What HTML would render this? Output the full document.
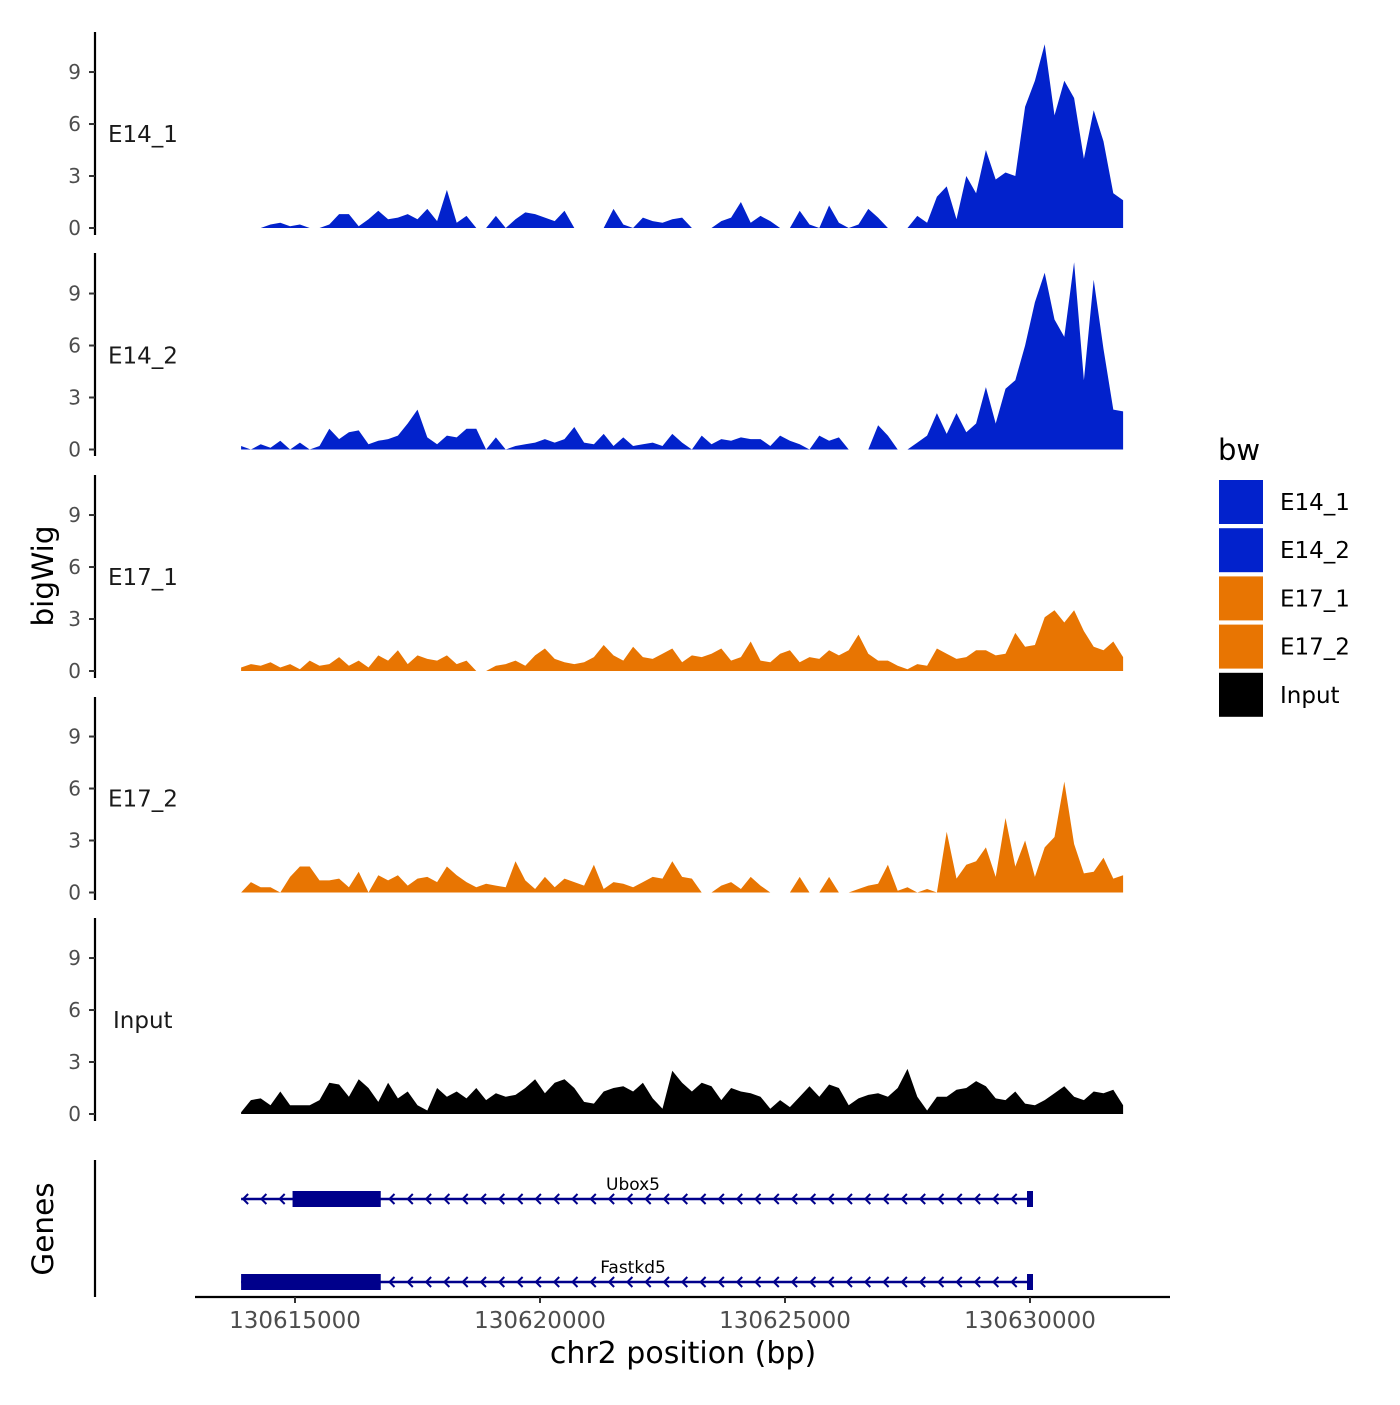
<!DOCTYPE html>
<html><head><meta charset="utf-8"><style>
body{margin:0;background:#fff;}
svg text{font-family:"DejaVu Sans","Liberation Sans",sans-serif;}
</style></head><body>
<svg id="c" width="1400" height="1400" viewBox="0 0 1400 1400">
<rect width="1400" height="1400" fill="#fff"/>
</svg>
<script>
const trackNames = ["E14_1","E14_2","E17_1","E17_2","Input"];
const trackColors = ["#0222cc","#0222cc","#e87502","#e87502","#000000"];
const yTicks = [0,3,6,9];
const xTicks = [130615000,130620000,130625000,130630000];
const startBp = 130613900;
const stepBp = 200;
const e14_1 = [0,0,0,0.2,0.3,0.1,0.2,0,0,0.2,0.8,0.8,0.1,0.5,1.0,0.5,0.6,0.8,0.5,1.1,0.4,2.2,0.3,0.7,0,0,0.7,0,0.5,0.9,0.8,0.6,0.4,1.0,0,0,0,0,1.1,0.2,0,0.6,0.4,0.3,0.5,0.6,0,0,0,0.4,0.6,1.5,0.3,0.7,0.4,0,0,1.0,0.2,0,1.3,0.3,0,0.2,1.1,0.6,0,0,0,0.7,0.3,1.8,2.4,0.5,3.0,2.0,4.5,2.8,3.2,3.0,7.0,8.5,10.6,6.5,8.5,7.5,4.0,6.8,5.0,2.0,1.6];
const e14_2 = [0.2,0,0.3,0.1,0.5,0,0.4,0,0.2,1.2,0.6,1.0,1.1,0.3,0.5,0.6,0.8,1.5,2.3,0.7,0.3,0.8,0.7,1.2,1.2,0,0.7,0,0.2,0.3,0.4,0.6,0.4,0.6,1.3,0.4,0.3,0.9,0.2,0.7,0.2,0.3,0.4,0.2,0.9,0.4,0,0.8,0.3,0.6,0.5,0.7,0.6,0.6,0.2,0.8,0.5,0.3,0,0.8,0.5,0.7,0,0,0,1.4,0.8,0,0,0.4,0.8,2.1,0.9,2.1,1.0,1.5,3.6,1.5,3.5,4.0,6.0,8.5,10.2,7.5,6.5,10.8,4.0,9.8,5.8,2.3,2.2];
const e17_1 = [0.2,0.4,0.3,0.5,0.2,0.4,0.1,0.6,0.3,0.4,0.8,0.3,0.6,0.2,0.9,0.6,1.2,0.4,0.9,0.7,0.6,0.9,0.4,0.6,0,0,0.3,0.4,0.6,0.3,0.9,1.3,0.7,0.5,0.4,0.5,0.8,1.5,0.9,0.6,1.4,0.8,0.7,1.0,1.3,0.5,0.9,0.8,1.0,1.3,0.6,0.8,1.7,0.6,0.5,1.0,1.2,0.5,0.8,0.7,1.2,0.9,1.2,2.1,1.0,0.6,0.6,0.3,0.1,0.4,0.3,1.3,1.0,0.7,0.8,1.2,1.2,0.9,1.0,2.2,1.4,1.5,3.1,3.5,2.8,3.5,2.3,1.4,1.2,1.7,0.8];
const e17_2 = [0,0.6,0.3,0.3,0,0.9,1.5,1.5,0.7,0.7,0.8,0.3,1.2,0,1.0,0.7,1.0,0.4,0.8,0.9,0.6,1.5,1.0,0.6,0.3,0.5,0.4,0.3,1.8,0.7,0.2,0.9,0.3,0.8,0.6,0.4,1.6,0.2,0.6,0.5,0.3,0.6,0.9,0.8,1.8,0.9,0.8,0,0,0.4,0.6,0.2,0.9,0.4,0,0,0,0.9,0,0,0.9,0,0,0.2,0.4,0.5,1.6,0.1,0.3,0,0.2,0,3.5,0.8,1.6,1.8,2.6,0.9,4.3,1.5,3.0,0.9,2.6,3.2,6.4,2.8,1.1,1.2,2.0,0.8,1.0];
const inputVals = [0.1,0.8,0.9,0.5,1.3,0.5,0.5,0.5,0.8,1.8,1.7,1.0,2.0,1.5,0.7,1.8,0.9,1.3,0.5,0.2,1.5,1.0,1.3,0.9,1.5,0.8,1.2,1.0,1.1,1.5,2.0,1.2,1.8,2.0,1.5,0.7,0.6,1.3,1.5,1.6,1.3,1.8,0.9,0.3,2.5,1.8,1.3,1.8,1.6,0.8,1.5,1.3,1.2,1.0,0.3,0.8,0.4,1.0,1.6,1.0,1.7,1.5,0.5,0.9,1.1,1.2,1.0,1.5,2.6,1.0,0.2,1.0,1.0,1.4,1.5,1.9,1.6,0.9,0.8,1.3,0.6,0.5,0.8,1.2,1.6,1.0,0.8,1.3,1.2,1.4,0.5];
const geneNames = ["Ubox5","Fastkd5"];
const geneStart = [130613900,130613900];
const geneEnd = [130630000,130630000];
const cdsStart = [130614950,130613900];
const cdsEnd = [130616750,130616750];

const series=[e14_1,e14_2,e17_1,e17_2,inputVals];
const NS="http://www.w3.org/2000/svg";
const svg=document.getElementById('c');
function mk(t,a,txt){const e=document.createElementNS(NS,t);for(const k in a)e.setAttribute(k,a[k]);if(txt!==undefined)e.textContent=txt;svg.appendChild(e);return e;}
const xS=bp=>295+(bp-130615000)*0.049;
const zeros=[228,449.5,671,892.5,1114];
const ppu=17.33;
const axTop=[32,253,475,697,918];

series.forEach((vals,t)=>{
  const z=zeros[t];const yS=v=>z-v*ppu;
  const ax=mk('line',{x1:95,x2:95,y1:axTop[t],y2:axTop[t]+203,stroke:'#000','stroke-width':2.2});
  
  
  yTicks.forEach(v=>{
    const tk=mk('line',{x1:89,x2:95,y1:yS(v),y2:yS(v),stroke:'#333','stroke-width':2});
    
    
    const tl=mk('text',{x:81,y:yS(v)+7,'text-anchor':'end','font-size':20,fill:'#4d4d4d'},v);
    
    
  });
  let d='M'+xS(startBp)+','+z;
  vals.forEach((v,i)=>{d+=' L'+xS(startBp+i*stepBp).toFixed(1)+','+yS(v).toFixed(1);});
  d+=' L'+xS(startBp+(vals.length-1)*stepBp).toFixed(1)+','+z+' Z';
  const p=mk('path',{d:d,fill:trackColors[t]});
  
  
  const lb=mk('text',{x:t==4?113:108,y:z-86,'font-size':23,fill:'#1a1a1a'},trackNames[t]);
  
  
});

const gax=mk('line',{x1:95,x2:95,y1:1160,y2:1297,stroke:'#000','stroke-width':2.2});


const gy=[1199,1282];
geneNames.forEach((g,i)=>{
  const y=gy[i];
  const x1=xS(geneStart[i]),x2=xS(geneEnd[i]);
  const ln=mk('line',{x1:x1,x2:x2,y1:y,y2:y,stroke:'#00008b','stroke-width':2.5});
  
  
  for(let x=x1+2;x<x2-6;x+=18.3){
    const a=mk('path',{d:`M${x+5},${y-5} L${x},${y} L${x+5},${y+5}`,stroke:'#00008b','stroke-width':2,fill:'none'});
    
    
  }
  const r=mk('rect',{x:xS(cdsStart[i]),y:y-8,width:xS(cdsEnd[i])-xS(cdsStart[i]),height:16,fill:'#00008b'});
  
  
  const e=mk('rect',{x:x2-3,y:y-8,width:6,height:16,fill:'#00008b'});
  
  
  const tl=mk('text',{x:633,y:y-9,'text-anchor':'middle','font-size':17,fill:'#000'},g);
  
  
});

const xa=mk('line',{x1:195,x2:1170,y1:1297,y2:1297,stroke:'#000','stroke-width':2.2});


xTicks.forEach(v=>{
  const tk=mk('line',{x1:xS(v),x2:xS(v),y1:1297,y2:1303,stroke:'#333','stroke-width':2});
  
  
  const tl=mk('text',{x:xS(v),y:1328,'text-anchor':'middle','font-size':23,fill:'#4d4d4d'},v);
  
  
});
const xt=mk('text',{x:683,y:1363,'text-anchor':'middle','font-size':30,fill:'#000'},'chr2 position (bp)');


const yt=mk('text',{x:0,y:0,'text-anchor':'middle','font-size':29.5,fill:'#000',transform:'translate(53,576) rotate(-90)'},'bigWig');


const gt=mk('text',{x:0,y:0,'text-anchor':'middle','font-size':29.5,fill:'#000',transform:'translate(53,1229) rotate(-90)'},'Genes');



const lt=mk('text',{x:1218,y:460,'font-size':29,fill:'#000'},'bw');


trackNames.forEach((n,i)=>{
  const y=480+i*48.2;
  const r=mk('rect',{x:1219,y:y,width:44,height:44,fill:trackColors[i]});
  
  
  const t=mk('text',{x:1280,y:y+30,'font-size':23,fill:'#000'},n);
  
  
});
</script>
</body></html>
